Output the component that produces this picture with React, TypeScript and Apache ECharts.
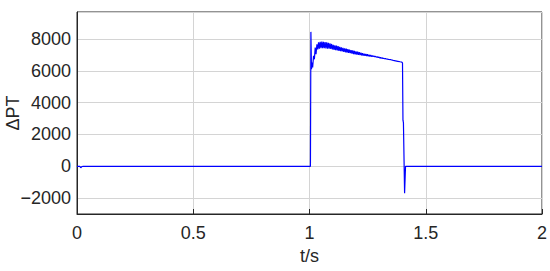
import React, { useEffect, useRef } from "react";
import * as echarts from "echarts";

// [t (s), ΔPT]
const trace: [number, number][] = [
  [0, 0], [0.012, 0], [0.016, -90], [0.02, -30], [0.026, 0],
  [1.0, 0], [1.004, 0], [1.006, 8450], [1.0085, 6100], [1.011, 6520], [1.0135, 6210],
  [1.0175, 6940], [1.021, 6730], [1.0245, 7460], [1.028, 7050], [1.032, 7670],
  [1.0355, 7350], [1.039, 7800], [1.0425, 7400], [1.046, 7830], [1.0495, 7420],
  [1.053, 7840], [1.0565, 7430], [1.06, 7830], [1.0635, 7420], [1.067, 7810],
  [1.0705, 7410], [1.074, 7790], [1.0775, 7400], [1.081, 7760], [1.0845, 7390],
  [1.088, 7730], [1.0915, 7380], [1.095, 7690], [1.0985, 7350], [1.102, 7640],
  [1.1055, 7320], [1.109, 7610], [1.1125, 7300], [1.116, 7580], [1.1195, 7280],
  [1.123, 7550], [1.1265, 7260], [1.13, 7510], [1.1335, 7240], [1.137, 7480],
  [1.1405, 7220], [1.144, 7450], [1.1475, 7190], [1.151, 7420], [1.1545, 7170],
  [1.158, 7390], [1.1615, 7150], [1.165, 7360], [1.1685, 7130], [1.172, 7330],
  [1.1755, 7110], [1.179, 7300], [1.1825, 7090], [1.186, 7280], [1.1895, 7060],
  [1.193, 7250], [1.1965, 7030], [1.2, 7230], [1.2035, 7020], [1.207, 7200],
  [1.2105, 7000], [1.214, 7170], [1.2175, 6990], [1.221, 7140], [1.2245, 6970],
  [1.228, 7110], [1.2315, 6960], [1.235, 7080], [1.2385, 6950], [1.242, 7060],
  [1.2455, 6930], [1.249, 7040], [1.2525, 6920], [1.256, 7010], [1.2595, 6910],
  [1.263, 6990], [1.2665, 6900], [1.27, 6960], [1.2735, 6890], [1.277, 6940],
  [1.2805, 6880], [1.284, 6910], [1.2875, 6860], [1.291, 6890], [1.2945, 6840],
  [1.298, 6870], [1.3015, 6810], [1.305, 6840], [1.3085, 6790], [1.312, 6820],
  [1.3155, 6780], [1.319, 6790], [1.3225, 6760], [1.326, 6770], [1.33, 6750],
  [1.34, 6720], [1.35, 6700], [1.36, 6660], [1.37, 6630], [1.38, 6600],
  [1.39, 6570], [1.397, 6550], [1.4, 6500], [1.402, 2900], [1.404, 2750],
  [1.409, -1700], [1.413, 0], [2.0, 0],
];

const xTicks: number[] = [0, 0.5, 1, 1.5, 2];
const yTickLabels: number[] = [-2000, 0, 2000, 4000, 6000, 8000];

const FONT = "'Liberation Sans', Arial, Helvetica, sans-serif";
const TXT = "#262626";

export default function App() {
  const ref = useRef<HTMLDivElement>(null);
  useEffect(() => {
    if (!ref.current) return;
    const chart = echarts.init(ref.current, undefined, { renderer: "svg" });
    chart.setOption({
      animation: false,
      backgroundColor: "#ffffff",
      grid: {
        left: 77,
        right: 8,
        top: 12,
        bottom: 57,
        containLabel: false,
        outerBoundsMode: "none",
        show: true,
        borderColor: TXT,
        borderWidth: 1,
        backgroundColor: "#ffffff",
      },
      xAxis: {
        type: "value",
        min: xTicks[0],
        max: xTicks[xTicks.length - 1],
        interval: 0.5,
        name: "t/s",
        nameLocation: "middle",
        nameGap: 33,
        nameMoveOverlap: false,
        nameTextStyle: { fontFamily: FONT, fontSize: 18, color: TXT },
        axisLine: { show: true, onZero: false, lineStyle: { color: TXT, width: 1 } },
        axisTick: { show: true, inside: true, length: 5, lineStyle: { color: TXT } },
        axisLabel: {
          fontFamily: FONT,
          fontSize: 18,
          color: TXT,
          margin: 10,
          showMaxLabel: true,
          formatter: (v: number) => String(v),
        },
        splitLine: { show: true, lineStyle: { color: "#d4d4d4", width: 1 } },
      },
      yAxis: {
        type: "value",
        min: -3000,
        max: 9700,
        interval: 1000,
        name: "ΔPT",
        nameLocation: "middle",
        nameGap: 55,
        nameMoveOverlap: false,
        nameTextStyle: { fontFamily: FONT, fontSize: 18, color: TXT },
        axisLine: { show: true, onZero: false, lineStyle: { color: TXT, width: 1 } },
        axisTick: { show: false },
        axisLabel: {
          fontFamily: FONT,
          fontSize: 18,
          color: TXT,
          margin: 6,
          formatter: (v: number) =>
            yTickLabels.includes(v) ? (v < 0 ? "\u2212" + Math.abs(v) : String(v)) : "",
        },
        splitLine: {
          show: true,
          lineStyle: { color: ["transparent", "#d4d4d4"], width: 1 },
        },
      },
      series: [
        {
          type: "line",
          data: trace,
          showSymbol: false,
          symbol: "none",
          lineStyle: { color: "#0000ff", width: 1.2 },
        },
      ],
    });
    return () => chart.dispose();
  }, []);
  return (
    <div
      ref={ref}
      style={{ position: "fixed", left: 0, top: 0, width: 550, height: 271 }}
    />
  );
}
